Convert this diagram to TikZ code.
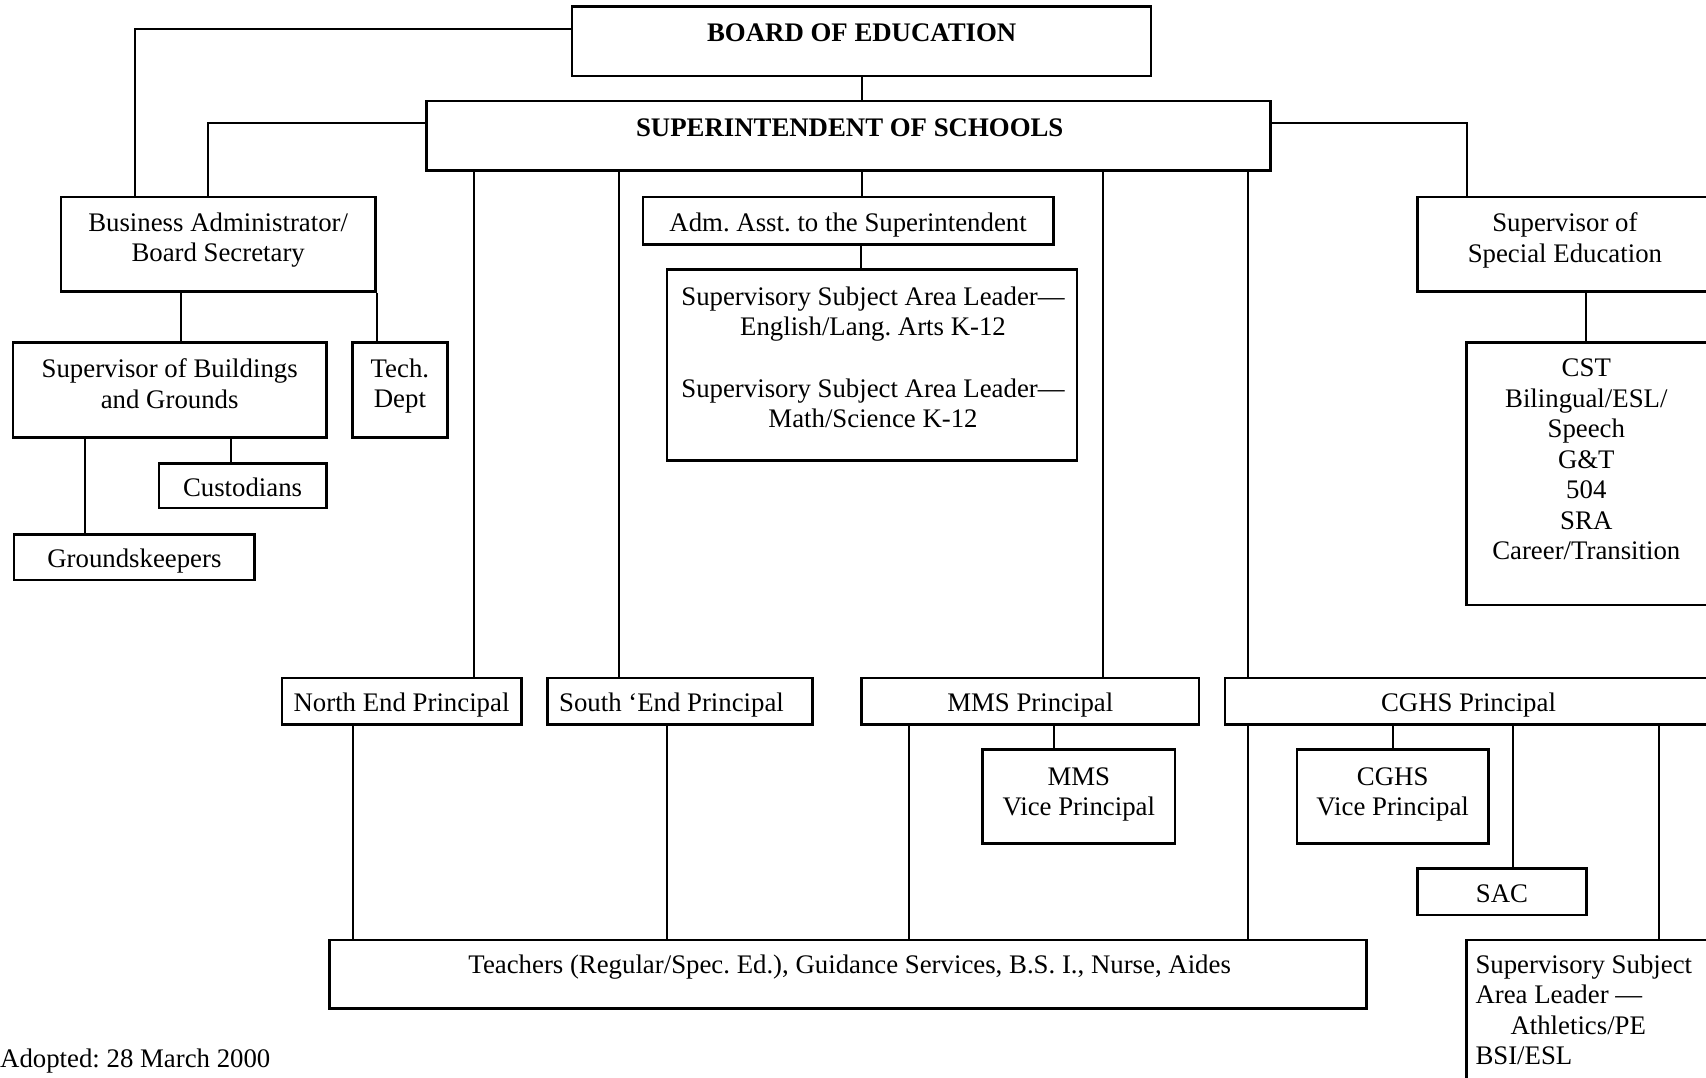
\documentclass[tikz,border=0pt]{standalone}
\usepackage{fontspec}
\setmainfont{Liberation Serif}
\usetikzlibrary{positioning}

\tikzset{
  box/.style={draw, line width=2.6pt, inner sep=0pt, align=center},
  oneline/.style={text height=26pt, text depth=5pt},
  txt/.style={inner sep=0pt, align=center},
  link/.style={line width=2pt},
}

\begin{document}
\frenchspacing
\begin{tikzpicture}[x=1pt, y=-1pt, font=\fontsize{26.8}{30.5}\selectfont]
    \useasboundingbox (0,0) rectangle (1706,1078);

    % top of the chart
    \path (861.5, 41.2) node [box, minimum width=579, minimum height=69.5] (board) {};
    \path (861.7, 32.6) node [txt] (boardtxt) {\bfseries BOARD OF EDUCATION};
    \path (848.6, 136) node [box, minimum width=844.3, minimum height=69.6] (supt) {};
    \path (849.7, 127.3) node [txt] (supttxt) {\bfseries SUPERINTENDENT OF SCHOOLS};
    \draw [link] (board.south) -- (board.south |- supt.north);

    % business side
    \path (218.2, 244.3) node [box, minimum width=314.4, minimum height=94.6, text depth=14pt] (ba)
	{Business Administrator/\\Board Secretary};
    \path (169.7, 390) node [box, minimum width=313.4, minimum height=94.7, text depth=13pt] (sbg)
	{Supervisor of Buildings\\and Grounds};
    \path (399.9, 390) node [box, minimum width=94.7, minimum height=94.7, text depth=14pt] (tech)
	{Tech.\\Dept};
    \path (242.6, 485.8) node [box, oneline, minimum width=167.6, minimum height=44.5] (cust) {Custodians};
    \path (134.4, 557.1) node [box, oneline, minimum width=240.5, minimum height=45.8] (grnd) {Groundskeepers};
    \draw [link] (board.west |- 0,29.4) -| (134.9,0 |- ba.north);
    \draw [link] (supt.west |- 0,123) -| (207.8,0 |- ba.north);
    \draw [link] (180.6,0 |- ba.south) -- (180.6,0 |- sbg.north);
    \draw [link] (ba.south east) -- (ba.south east |- tech.north);
    \draw [link] (230.7,0 |- sbg.south) -- (230.7,0 |- cust.north);
    \draw [link] (84.9,0 |- sbg.south) -- (84.9,0 |- grnd.north);

    % assistant and subject leaders
    \path (848.1, 220.9) node [box, oneline, minimum width=410.2, minimum height=47.8] (adm)
	{Adm. Asst. to the Superintendent};
    \path (872, 365) node [box, minimum width=410, minimum height=190.4] (ssal) {};
    \path (873, 357.5) node [txt] (ssaltxt)
	{Supervisory Subject Area Leader—\\English/Lang. Arts K-12\\[31pt]
	 Supervisory Subject Area Leader—\\Math/Science K-12};
    \draw [link] (861.7,0 |- supt.south) -- (861.7,0 |- adm.north);
    \draw [link] (860.6,0 |- adm.south) -- (860.6,0 |- ssal.north);

    % special education
    \path (1564.9, 244.3) node [box, minimum width=294.3, minimum height=94.6, text depth=13.4pt] (sped)
	{Supervisor of\\Special Education};
    \path (1589.3, 473.9) node [box, minimum width=245.4, minimum height=262.3] (cst) {};
    \path (1586.3, 459.7) node [txt] (csttxt)
	{CST\\Bilingual/ESL/\\Speech\\G\&T\\504\\SRA\\Career/Transition};
    \draw [link] (supt.east |- 0,123) -| (1466.6,0 |- sped.north);
    \draw [link] (1586.3,0 |- sped.south) -- (1586.3,0 |- cst.north);

    % principals
    \path (401.5, 701.2) node [box, oneline, minimum width=239.4, minimum height=46.8] (ne)
	{North End Principal};
    \path (680, 701.2) node [box, oneline, minimum width=265.4, minimum height=46.8] (se)
	{South ‘End Principal\hspace*{17pt}};
    \path (1030.3, 701.2) node [box, oneline, minimum width=337.3, minimum height=46.8] (mms)
	{MMS Principal};
    \path (1468.5, 701.2) node [box, oneline, minimum width=487, minimum height=46.8] (cghs)
	{CGHS Principal};
    \foreach \x/\to in {474.4/ne, 619/se, 1103.3/mms, 1248/cghs}
	\draw [link] (\x,0 |- supt.south) -- (\x,0 |- \to.north);

    % under the principals
    \path (1078.8, 796.4) node [box, minimum width=192.5, minimum height=93.6, text depth=10pt] (mvp)
	{MMS\\Vice Principal};
    \path (1392.7, 796.4) node [box, minimum width=191.4, minimum height=93.6, text depth=10pt] (cvp)
	{CGHS\\Vice Principal};
    \path (1502, 891.6) node [box, oneline, minimum width=168.6, minimum height=46.8] (sac) {SAC};
    \path (1589.3, 1015) node [box, minimum width=245.4, minimum height=150] (ath) {};
    \path (1475.3, 1010) node [txt, align=left, anchor=west] (athtxt)
	{Supervisory Subject\\Area Leader —\\\hspace*{35pt}Athletics/PE\\BSI/ESL};
    \path (848.1, 974.3) node [box, minimum width=1036.8, minimum height=68.5] (teach) {};
    \path (849.7, 967.2) node [txt] (teachtxt)
	{Teachers (Regular/Spec. Ed.), Guidance Services, B.S. I., Nurse, Aides};
    \foreach \x/\from/\to in {352.5/ne/teach, 667/se/teach, 908.5/mms/teach, 1248/cghs/teach,
	1054.3/mms/mvp, 1392.6/cghs/cvp, 1513.4/cghs/sac, 1659/cghs/ath}
	\draw [link] (\x,0 |- \from.south) -- (\x,0 |- \to.north);

    \path (0, 1060.8) node [txt, anchor=west] (adopted) {Adopted: 28 March 2000};
\end{tikzpicture}
\end{document}
